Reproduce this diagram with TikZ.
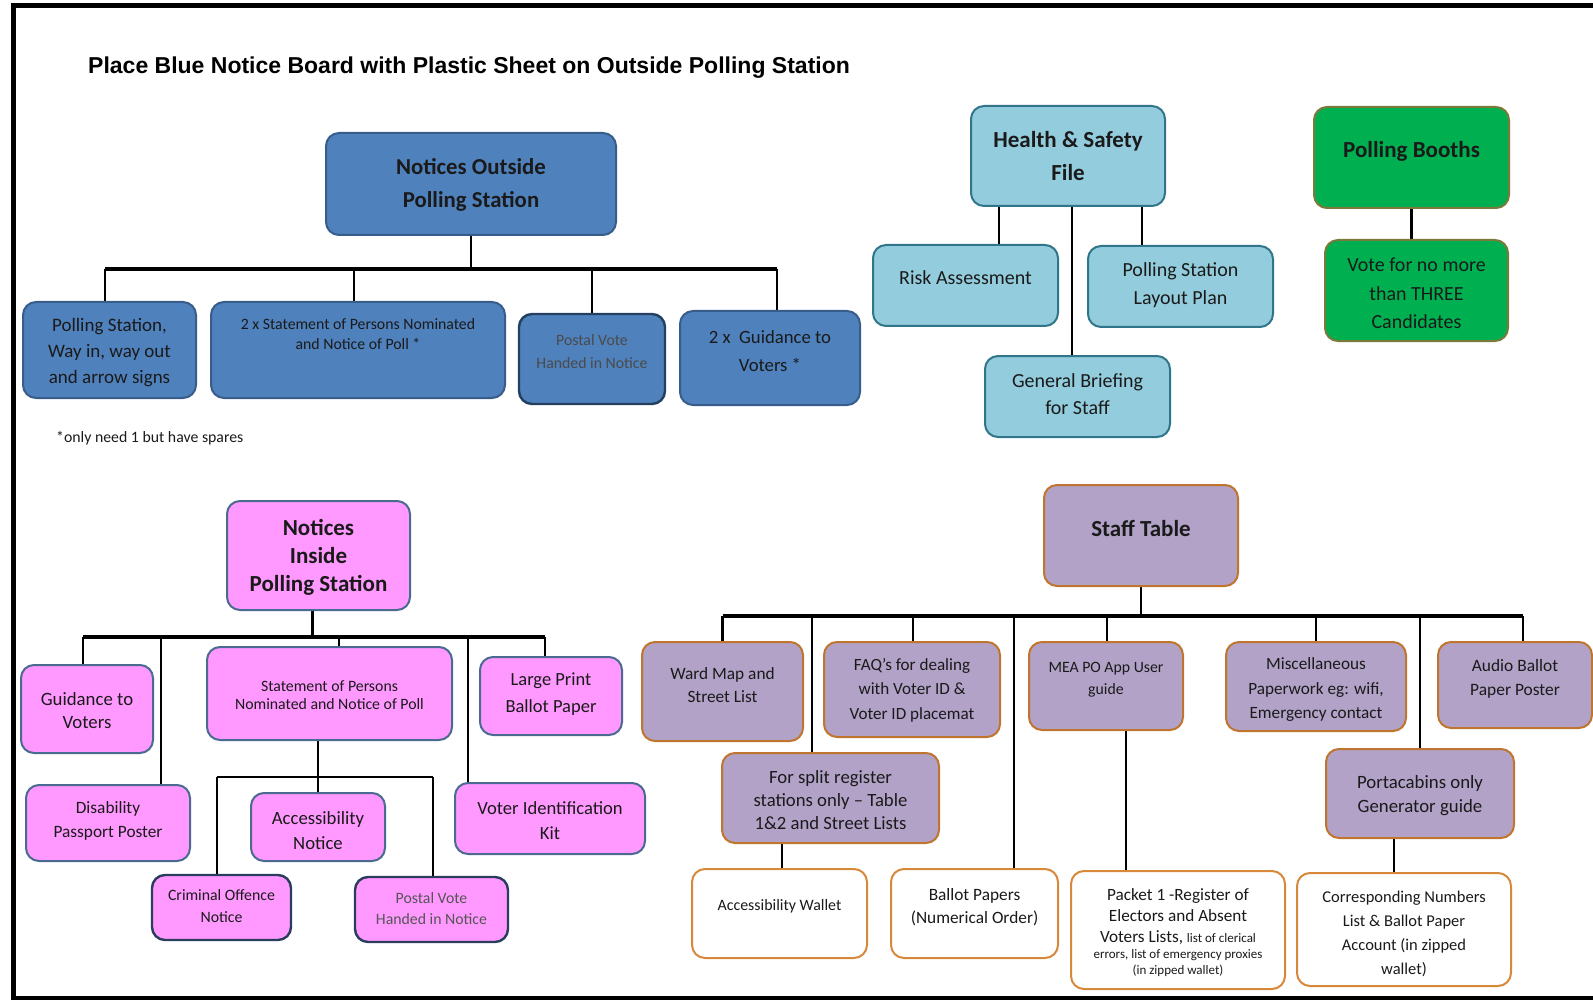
\documentclass[tikz,border=0pt]{standalone}
\usepackage{fontspec}
\setmainfont{Carlito}
\newfontfamily\titlefont{Liberation Sans}
\usetikzlibrary{backgrounds}
\definecolor{blueF}{HTML}{4F81BD}
\definecolor{blueD}{HTML}{385D8A}
\definecolor{blueDD}{HTML}{243F60}
\definecolor{lbF}{HTML}{93CDDD}
\definecolor{lbD}{HTML}{31758A}
\definecolor{gF}{HTML}{00B050}
\definecolor{gD}{HTML}{7A7A3A}
\definecolor{pkF}{HTML}{FF99FF}
\definecolor{pkD}{HTML}{4A6A90}
\definecolor{pkDD}{HTML}{2B3D5C}
\definecolor{puF}{HTML}{B2A2C7}
\definecolor{puD}{HTML}{C0752F}
\definecolor{wD}{HTML}{D8883A}
\definecolor{txtC}{HTML}{1A1A1A}
\definecolor{greyT}{HTML}{4A4A4A}
\definecolor{greyT2}{HTML}{555555}
\newcommand\fsz[2]{\fontsize{#1}{#2}\selectfont}
% style, name, x1, y1, x2, y2, y of text centre, text options, text
\newcommand\bx[9]{%
  \node[#1, minimum width={(#5)-(#3)}, minimum height={(#6)-(#4)}] (#2) at ({((#3)+(#5))/2},{((#4)+(#6))/2}) {};
  \node[txt, #8] (#2-t) at ({((#3)+(#5))/2},#7) {#9};}
\tikzset{
  box/.style={rounded corners=13pt, line width=2pt, inner sep=0pt},
  bluebox/.style={box, fill=blueF, draw=blueD},
  blueboxd/.style={box, fill=blueF, draw=blueDD, line width=2.4pt},
  lbbox/.style={box, fill=lbF, draw=lbD},
  gbox/.style={box, fill=gF, draw=gD},
  pbox/.style={box, fill=pkF, draw=pkD},
  pboxd/.style={box, fill=pkF, draw=pkDD, line width=2.4pt},
  ubox/.style={box, fill=puF, draw=puD},
  wbox/.style={box, fill=white, draw=wD},
  txt/.style={align=center, inner sep=0pt, text=txtC},
  conn/.style={line width=2.4pt, draw=black},
  bar/.style={line width=3.6pt, draw=black},
  subbar/.style={line width=2.8pt, draw=black},
}
\begin{document}
\begin{tikzpicture}[x=1pt, y=-1pt]
\useasboundingbox (0,0) rectangle (1593,1000);
\draw[line width=5pt] (1593,5.5) -- (13,5.5) -- (13,998) -- (1593,998);

\node[anchor=west, inner sep=0pt, font=\titlefont\bfseries\fsz{23}{28}] (title) at (88,68) {Place Blue Notice Board with Plastic Sheet on Outside Polling Station};

% ---- Notices outside
\bx{bluebox}{no}{326}{133}{616}{235}{185}{font=\fsz{22.8}{33.5}\bfseries}{Notices Outside\\Polling Station}
\bx{bluebox}{c1}{23}{302}{196}{398}{353}{font=\fsz{19}{26}}{Polling Station,\\Way in, way out\\and arrow signs}
\bx{bluebox}{c2}{211}{302}{505}{398}{334}{font=\fsz{15.8}{20}}{2 x Statement of Persons Nominated\\and Notice of Poll *}
\bx{blueboxd}{c3}{519}{314}{665}{404}{351.5}{font=\fsz{15.8}{23}, text=greyT}{Postal Vote\\Handed in Notice}
\bx{bluebox}{c4}{680}{311}{860}{405}{351}{font=\fsz{18.7}{28}}{2 x~ Guidance to\\Voters *}
\node[anchor=west, inner sep=0pt, text=txtC, font=\fsz{15.8}{19}] (fn) at (56,438) {*only need 1 but have spares};

% ---- Health & Safety
\bx{lbbox}{hs}{971}{106}{1165}{206}{156}{font=\fsz{23}{33}\bfseries}{Health \& Safety\\File}
\bx{lbbox}{ra}{873}{245}{1058}{326}{278}{font=\fsz{20}{28}}{Risk Assessment}
\bx{lbbox}{pl}{1088}{246}{1273}{327}{285}{font=\fsz{20}{28}}{Polling Station\\Layout Plan}
\bx{lbbox}{gb}{985}{356}{1170}{437}{394.5}{font=\fsz{20}{27}}{General Briefing\\for Staff}

% ---- Polling booths
\bx{gbox}{pb}{1314}{107}{1509}{208}{151}{font=\fsz{23}{28}\bfseries}{Polling Booths}
\bx{gbox}{vt}{1325}{240}{1508}{341}{293.5}{font=\fsz{20}{28.5}}{Vote for no more\\than THREE\\Candidates}

% ---- Notices inside
\bx{pbox}{ni}{227}{501}{410}{610}{557.5}{font=\fsz{23}{28}\bfseries}{Notices\\Inside\\Polling Station}
\bx{pbox}{gv}{21}{665}{153}{753}{710.5}{font=\fsz{18.8}{23}}{Guidance to\\Voters}
\bx{pbox}{dp}{26}{785}{190}{861}{820.5}{font=\fsz{17.3}{24}}{Disability\\Passport Poster}
\bx{pbox}{sp}{207}{647}{452}{740}{695}{font=\fsz{15.8}{18}}{Statement of Persons\\Nominated and Notice of Poll}
\bx{pbox}{lp}{480}{657}{622}{735}{694.5}{font=\fsz{18.5}{27}}{Large Print\\Ballot Paper}
\bx{pbox}{vk}{455}{783}{645}{854}{820.5}{font=\fsz{18.6}{25}}{Voter Identification\\Kit}
\bx{pbox}{an}{251}{793}{385}{861}{830.5}{font=\fsz{18.7}{25}}{Accessibility\\Notice}
\bx{pboxd}{co}{152}{875}{291}{940}{906}{font=\fsz{15.8}{22}}{Criminal Offence\\Notice}
\bx{pboxd}{pv}{355}{877}{508}{942}{908.5}{font=\fsz{15.8}{21}, text=greyT2}{Postal Vote\\Handed in Notice}

% ---- Staff table
\bx{ubox}{st}{1044}{485}{1238}{586}{528.5}{font=\fsz{23}{28}\bfseries}{Staff Table}
\bx{ubox}{wm}{642}{642}{803}{741}{685}{font=\fsz{17.3}{23}}{Ward Map and\\Street List}
\bx{ubox}{fq}{824}{642}{1000}{737}{690}{font=\fsz{17.1}{24.5}}{FAQ’s for dealing\\with Voter ID \&\\Voter ID placemat}
\bx{ubox}{mea}{1029}{642}{1183}{730}{680}{font=\fsz{15.8}{22}}{MEA PO App User\\guide}
\bx{ubox}{misc}{1226}{642}{1406}{731}{690}{font=\fsz{17.2}{24.5}}{Miscellaneous\\Paperwork eg: wifi,\\Emergency contact}
\bx{ubox}{ab}{1438}{642}{1592}{728}{678.5}{font=\fsz{17.4}{24}}{Audio Ballot\\Paper Poster}
\bx{ubox}{sr}{722}{753}{939}{843}{800}{font=\fsz{18.7}{23}}{For split register\\stations only – Table\\1\&2 and Street Lists}
\bx{ubox}{pc}{1326}{749}{1514}{838}{795.5}{font=\fsz{18.8}{24}}{Portacabins only\\Generator guide}
\bx{wbox}{aw}{692}{869}{867}{958}{906.5}{font=\fsz{15.9}{20}}{Accessibility Wallet}
\bx{wbox}{bp}{891}{869}{1058}{958}{907}{font=\fsz{17.3}{23}}{Ballot Papers\\(Numerical Order)}
\bx{wbox}{pk}{1071}{871}{1285}{989}{932.5}{font=\fsz{17.2}{21}}{Packet 1 -Register of\\Electors and Absent\\Voters Lists, {\fsz{13}{16}list of clerical}\\[-5pt]{\fsz{13}{16}errors, list of emergency proxies}\\[-5pt]{\fsz{13}{16}(in zipped wallet)}}
\bx{wbox}{cn}{1297}{873}{1511}{986}{933.5}{font=\fsz{16.5}{24}}{Corresponding Numbers\\List \& Ballot Paper\\Account (in zipped\\wallet)}

\begin{pgfonlayer}{background}
% outside
\coordinate (barO) at (473,269);
\draw[conn] (no.south) -- (no.south |- barO);
\draw[bar] ([xshift=-4.5]c1.north |- barO) -- ([xshift=7]c4.north |- barO);
\draw[conn] ([xshift=-4.5]c1.north |- barO) -- ([xshift=-4.5]c1.north);
\draw[conn] ([xshift=-4]c2.north |- barO) -- ([xshift=-4]c2.north);
\draw[conn] (c3.north |- barO) -- (c3.north);
\draw[conn] ([xshift=7]c4.north |- barO) -- ([xshift=7]c4.north);
% health & safety
\draw[conn] ([xshift=-69]hs.south) -- ([xshift=-69]hs.south |- ra.north);
\draw[conn] ([xshift=4]hs.south) -- ([xshift=4]hs.south |- gb.north);
\draw[conn] ([xshift=74]hs.south) -- ([xshift=74]hs.south |- pl.north);
% booths
\draw[conn] (pb.south) -- (pb.south |- vt.north);
% inside
\coordinate (barI) at (312,637);
\draw[conn] ([xshift=-6]ni.south) -- ([xshift=-6]ni.south |- barI);
\draw[bar] ([xshift=-4]gv.north |- barI) -- ([xshift=-6]lp.north |- barI);
\draw[conn] ([xshift=-4]gv.north |- barI) -- ([xshift=-4]gv.north);
\draw[conn] ([xshift=53]dp.north |- barI) -- ([xshift=53]dp.north);
\draw[conn] ([xshift=9.5]sp.north |- barI) -- ([xshift=9.5]sp.north);
\draw[conn] ([xshift=-82]vk.north |- barI) -- ([xshift=-82]vk.north);
\draw[conn] ([xshift=-6]lp.north |- barI) -- ([xshift=-6]lp.north);
\coordinate (barS) at (318,777);
\draw[conn] ([xshift=-11.5]sp.south) -- ([xshift=-11.5]sp.south |- barS);
\draw[subbar] ([xshift=-4.5]co.north |- barS) -- ([xshift=1.5]pv.north |- barS);
\draw[conn] ([xshift=-4.5]co.north |- barS) -- ([xshift=-4.5]co.north);
\draw[conn] (an.north |- barS) -- (an.north);
\draw[conn] ([xshift=1.5]pv.north |- barS) -- ([xshift=1.5]pv.north);
% staff table
\coordinate (barT) at (1140,616);
\draw[conn] (st.south) -- (st.south |- barT);
\draw[bar] (wm.north |- barT) -- ([xshift=8]ab.north |- barT);
\draw[conn] (wm.north |- barT) -- (wm.north);
\draw[conn] ([xshift=-18.5]sr.north |- barT) -- ([xshift=-18.5]sr.north);
\draw[conn] ([xshift=1]fq.north |- barT) -- ([xshift=1]fq.north);
\draw[conn] ([xshift=39.5]bp.north |- barT) -- ([xshift=39.5]bp.north);
\draw[conn] ([xshift=1]mea.north |- barT) -- ([xshift=1]mea.north);
\draw[conn] (misc.north |- barT) -- (misc.north);
\draw[conn] (pc.north |- barT) -- (pc.north);
\draw[conn] ([xshift=8]ab.north |- barT) -- ([xshift=8]ab.north);
\draw[conn] ([xshift=-48.5]sr.south) -- ([xshift=-48.5]sr.south |- aw.north);
\draw[conn] ([xshift=20]mea.south) -- ([xshift=20]mea.south |- pk.north);
\draw[conn] ([xshift=-26]pc.south) -- ([xshift=-26]pc.south |- cn.north);
\end{pgfonlayer}
\end{tikzpicture}
\end{document}
